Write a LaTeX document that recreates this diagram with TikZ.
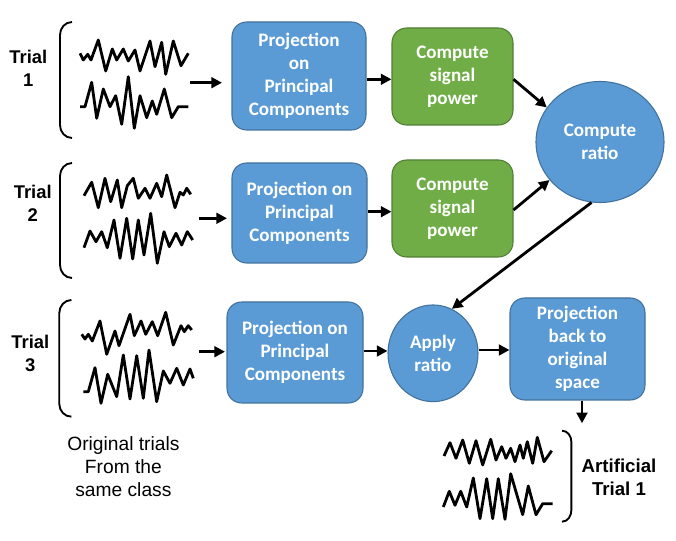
\documentclass[tikz,border=0pt]{standalone}
\usepackage{fontspec}
\setmainfont{Liberation Sans}
\newfontfamily\calfont{Carlito}
\usetikzlibrary{arrows.meta,shapes.geometric}
\definecolor{pblue}{HTML}{5B9BD5}
\definecolor{pblueD}{HTML}{41719C}
\definecolor{pgreen}{HTML}{70AD47}
\definecolor{pgreenD}{HTML}{507E32}
\begin{document}
\begin{tikzpicture}[x=0.75pt,y=-0.75pt,
  boxtxt/.style={text=white,font=\calfont\bfseries\fontsize{14.3}{17.25}\selectfont,align=center,inner sep=0pt},
  bluebox/.style={boxtxt,rectangle,rounded corners=11pt,draw=pblueD,fill=pblue,line width=0.8pt},
  greenbox/.style={boxtxt,rectangle,rounded corners=11pt,draw=pgreenD,fill=pgreen,line width=0.8pt},
  bluecirc/.style={boxtxt,ellipse,draw=pblueD,fill=pblue,line width=0.8pt},
  arr/.style={line width=2.1pt,-{Triangle[length=8pt,width=8pt]}},
  wave/.style={line width=2.1pt,line join=round},
  brk/.style={line width=1.4pt},
  triallbl/.style={font=\bfseries\fontsize{13.8}{17.25}\selectfont,align=center,inner sep=0pt},
  plainlbl/.style={font=\fontsize{14.4}{17.25}\selectfont,align=center,inner sep=0pt}
]
\useasboundingbox (0,0) rectangle (676,541);

% boxes
\node[bluebox,minimum width=100.5pt,minimum height=81pt] (A1) at (299,76) {Projection\\on\\Principal\\Components};
\node[bluebox,minimum width=101.25pt,minimum height=75pt] (A2) at (299.5,213) {Projection on\\Principal\\Components};
\node[bluebox,minimum width=102pt,minimum height=75.75pt] (A3) at (295,352.5) {Projection on\\Principal\\Components};
\node[greenbox,minimum width=90.75pt,minimum height=72.75pt] (G1) at (452.5,76.5) {Compute\\signal\\power};
\node[greenbox,minimum width=90.75pt,minimum height=72.75pt] (G2) at (452.5,208.5) {Compute\\signal\\power};
\node[bluecirc,minimum width=96pt,minimum height=90.75pt] (R) at (600,142) {Compute\\ratio};
\node[bluecirc,minimum width=67.5pt,minimum height=72.5pt] (AP) at (433,353.3) {Apply\\ratio};
\node[bluebox,minimum width=101.25pt,minimum height=76.5pt] (B) at (577.5,349) {Projection\\back to\\original\\space};

% labels
\node[triallbl] (T1) at (28.3,68.3) {Trial\\1};
\node[triallbl] (T2) at (32.7,203.3) {Trial\\2};
\node[triallbl] (T3) at (30.3,353.3) {Trial\\3};
\node[triallbl,font=\bfseries\fontsize{14}{17.25}\selectfont] (AT) at (619,477.7) {Artificial\\Trial 1};
\node[plainlbl] (OT) at (123.4,466.5) {Original trials\\From the\\same class};

% brackets
\draw[brk] (72,22) to[out=180,in=90] (60,35) -- (60,125) to[out=270,in=180] (72,138);
\draw[brk] (72,163) to[out=180,in=90] (60,176) -- (60,265) to[out=270,in=180] (72,278);
\draw[brk] (71.4,300) to[out=180,in=90] (59.3,313) -- (59.3,404) to[out=270,in=180] (71.4,416.7);
\draw[brk] (562,430.7) to[out=0,in=90] (571.4,442) -- (571.4,510) to[out=270,in=0] (562,521.7);

% waves trial 1
\draw[wave] (80,53.3) -- (83.3,60) -- (87.7,54.3) -- (91,60) -- (98.3,40) -- (105.7,71) -- (112.3,49) -- (116.7,60) -- (123.3,49) -- (128.3,61) -- (135,50) -- (140,71) -- (150,41) -- (155,66.7) -- (161.7,42.3) -- (165.7,74.3) -- (173.3,41) -- (181,65.7) -- (188.3,53.3);
\draw[wave] (80,106.7) -- (85,106.7) -- (91.7,82.3) -- (96.7,118.3) -- (103.3,89) -- (110,106.7) -- (115.7,95.7) -- (121.7,124.3) -- (128.3,76.7) -- (134.3,128.3) -- (140,95.7) -- (146.7,117.7) -- (152.3,101) -- (156.7,114.3) -- (164.3,89) -- (171.7,117.7) -- (178.3,106.7) -- (188.3,106.7);
% waves trial 2
\draw[wave] (84,195.7) -- (91.7,182.3) -- (98.3,207.7) -- (105,178.3) -- (110.7,201.7) -- (117.3,180) -- (121.7,207.7) -- (127.3,185.7) -- (133.3,178.3) -- (138.3,198.3) -- (145,188.3) -- (150,198.3) -- (156.7,183.3) -- (161.7,196.7) -- (166.7,175) -- (175,207.7) -- (180,192.3) -- (183.3,195) -- (186.7,188.3) -- (190.7,194.3);
\draw[wave] (84,247.7) -- (90,231) -- (96,241.7) -- (101.7,231.7) -- (107.3,247.7) -- (114,220) -- (120,258.3) -- (126.7,218.3) -- (132.7,259) -- (138.3,220) -- (144,255) -- (150.7,213.3) -- (157.3,263.3) -- (164,231.7) -- (169.3,246.7) -- (176,233.3) -- (181.7,245) -- (187.3,231.7) -- (192.7,240);
% waves trial 3
\draw[wave] (81.7,334.3) -- (85,339) -- (88.3,334.3) -- (92.3,341) -- (100,321) -- (106.7,354.3) -- (115,331) -- (119,345.7) -- (130,314.3) -- (134.3,335.7) -- (141,321) -- (145.7,334.3) -- (152.3,321.7) -- (157.7,335.7) -- (165.7,312.3) -- (173.3,345) -- (181,325.7) -- (184.3,331.7) -- (188.3,325.7) -- (191.7,330);
\draw[wave] (83.3,391.7) -- (88.3,391.7) -- (95,367.7) -- (101,403.3) -- (107.7,374.3) -- (116.7,396.7) -- (123.3,355) -- (130,399) -- (136.7,355.7) -- (143.3,398.3) -- (149,350) -- (156.7,401.7) -- (163.3,371) -- (170,383.3) -- (176.7,368.3) -- (183.3,385) -- (190,369) -- (193.3,378.3);
% artificial waves
\draw[wave] (444,456) -- (450,442.7) -- (456,458.3) -- (462.7,440) -- (469.3,463.3) -- (476,440.7) -- (482.7,465) -- (490.7,439.3) -- (496,460) -- (501.7,446.7) -- (506,458.3) -- (510.7,448.3) -- (515,461.7) -- (520,445) -- (523.3,458.3) -- (527.3,441.7) -- (532.7,463.3) -- (537.3,437.3) -- (544,461.7) -- (551.7,450.7);
\draw[wave] (443.3,507) -- (449.3,491.3) -- (455,505.3) -- (460.7,491.3) -- (466.7,507) -- (473.3,478) -- (480,518.7) -- (486.7,478.7) -- (492.7,518.7) -- (498.3,478.7) -- (505,519.3) -- (510.7,473.7) -- (522.7,514.7) -- (528.3,486) -- (536,514.7) -- (542.7,503.7) -- (552.7,503.7);

% free ends of arrows
\coordinate (w1) at (190,82.7);
\coordinate (w1e) at (222,82.7);
\coordinate (w2) at (199.3,218.3);
\coordinate (w2e) at (227,218.3);
\coordinate (w3) at (199,351.7);
\coordinate (w3e) at (225,351.7);
\coordinate (bd) at (582,423.3);

% connectors
\draw[arr] (w1) -- (w1e);
\draw[arr] (w2) -- (w2e);
\draw[arr] (w3) -- (w3e);
\draw[arr] (A1.east |- 0,79.3) -- (G1.west |- 0,79.3);
\draw[arr] (A2.east |- 0,211.7) -- (G2.west |- 0,211.7);
\draw[arr] (G1.east |- 0,79.3) -- (R.147);
\draw[arr] (G2.east |- 0,210) -- (R.217);
\draw[arr] (R.262) -- (AP.67);
\draw[arr] (A3.east |- 0,351) -- (AP.west |- 0,351);
\draw[arr] (AP.east |- 0,350) -- (B.west |- 0,350);
\draw[arr] (B.south -| bd) -- (bd);
\end{tikzpicture}
\end{document}
